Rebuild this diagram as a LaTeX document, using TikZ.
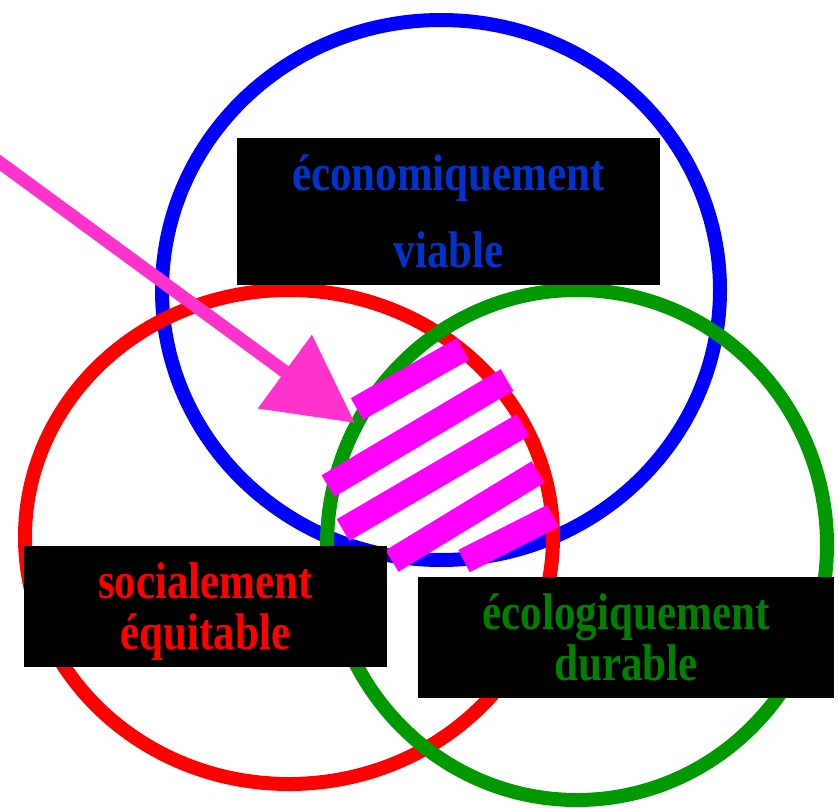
\documentclass[tikz,border=0pt]{standalone}
\usepackage{fontspec}
\setmainfont{Liberation Serif}
\usepackage{graphicx}
\usetikzlibrary{arrows.meta}
\definecolor{ringblue}{RGB}{0,0,255}
\definecolor{ringred}{RGB}{255,0,0}
\definecolor{ringgreen}{RGB}{0,153,0}
\definecolor{txtblue}{RGB}{0,51,204}
\definecolor{txtgreen}{RGB}{0,128,0}
\definecolor{hatch}{RGB}{255,0,255}
\definecolor{pointer}{RGB}{255,51,204}
\tikzset{
  ring/.style={line width=14pt},
  stripe/.style={draw=hatch, line width=25pt},
  lbl/.style={rectangle, fill=black, inner sep=0pt, align=center,
    font=\bfseries\fontsize{43}{42}\selectfont}
}
\newcommand{\tallstack}[3][0pt]{\raisebox{0pt}[\dimexpr\height+14pt\relax][\depth]{%
  \scalebox{1}[1.2]{\begin{tabular}{@{}c@{}}#2\\[#1]#3\end{tabular}}}}

\begin{document}
\begin{tikzpicture}[x=1pt, y=-1pt]
  \useasboundingbox (0,0) rectangle (839,808);

  % the three rings
  \draw[ring, ringblue]  (441,290) ellipse [x radius=279, y radius=270];
  \draw[ring, ringred]   (289,537) ellipse [x radius=264, y radius=247];
  \draw[ring, ringgreen] (577,545) ellipse [x radius=250, y radius=255];

  % hatching of the common part
  \foreach \a/\b in {{(357,409)}/{(463,349)}, {(328,486)}/{(507,380)},
                     {(343,530)}/{(523,425)}, {(392,561)}/{(538,472)},
                     {(464,561)}/{(553,516)}}
    \draw[stripe] \a -- \b;

  % labels
  \node[lbl, text=txtblue, minimum width=423pt, minimum height=147pt]
    (eco) at (448.5,211.5) {\tallstack[22pt]{économiquement}{viable}};
  \node[lbl, text=ringred, minimum width=363pt, minimum height=121pt]
    (soc) at (205.5,606.5) {\tallstack{socialement}{équitable}};
  \node[lbl, text=txtgreen, minimum width=416pt, minimum height=121pt]
    (env) at (626,637.5) {\tallstack{écologiquement}{durable}};

  % pointer
  \coordinate (from) at (-20,148);
  \coordinate (hit) at (355,423);
  \draw[pointer, line width=13pt, -{Triangle[length=87pt, width=88pt]}] (from) -- (hit);
\end{tikzpicture}
\end{document}
